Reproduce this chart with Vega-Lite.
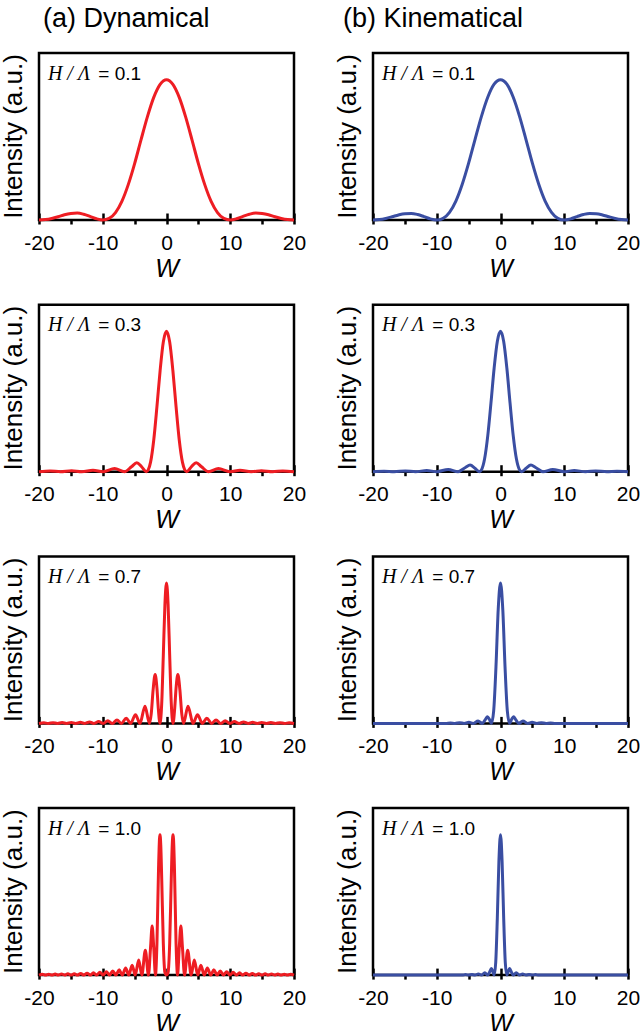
{
"$schema": "https://vega.github.io/schema/vega-lite/v6.json",
"autosize": {"type": "pad"},
"padding": {"left": -1, "top": 3, "right": 0, "bottom": 0},
"background": "white",
"config": {
 "view": {"stroke": "#000", "strokeWidth": 2.5},
 "axis": {"domain": false, "grid": false, "tickColor": "#000", "tickWidth": 2.5, "labelFont": "Liberation Sans", "labelFontSize": 21, "labelColor": "#000", "titleFont": "Liberation Sans", "titleFontSize": 25, "titleFontWeight": "normal", "titleColor": "#000", "zindex": 1}
},
"datasets": {
 "d01": [{"W":-20,"I":0},{"W":-19,"I":0.003},{"W":-18,"I":0.011},{"W":-17,"I":0.023},{"W":-16,"I":0.037},{"W":-15,"I":0.046},{"W":-14,"I":0.049},{"W":-13,"I":0.041},{"W":-12,"I":0.026},{"W":-11,"I":0.009},{"W":-10,"I":0},{"W":-9,"I":0.011},{"W":-8,"I":0.053},{"W":-7,"I":0.133},{"W":-6,"I":0.252},{"W":-5,"I":0.402},{"W":-4,"I":0.571},{"W":-3,"I":0.735},{"W":-2,"I":0.874},{"W":-1,"I":0.967},{"W":0,"I":1},{"W":1,"I":0.967},{"W":2,"I":0.874},{"W":3,"I":0.735},{"W":4,"I":0.571},{"W":5,"I":0.402},{"W":6,"I":0.252},{"W":7,"I":0.133},{"W":8,"I":0.053},{"W":9,"I":0.011},{"W":10,"I":0},{"W":11,"I":0.009},{"W":12,"I":0.026},{"W":13,"I":0.041},{"W":14,"I":0.049},{"W":15,"I":0.046},{"W":16,"I":0.037},{"W":17,"I":0.023},{"W":18,"I":0.011},{"W":19,"I":0.003},{"W":20,"I":0}],
 "k01": [{"W":-20,"I":0},{"W":-19,"I":0.003},{"W":-18,"I":0.011},{"W":-17,"I":0.023},{"W":-16,"I":0.036},{"W":-15,"I":0.045},{"W":-14,"I":0.047},{"W":-13,"I":0.039},{"W":-12,"I":0.024},{"W":-11,"I":0.008},{"W":-10,"I":0},{"W":-9,"I":0.012},{"W":-8,"I":0.055},{"W":-7,"I":0.135},{"W":-6,"I":0.255},{"W":-5,"I":0.405},{"W":-4,"I":0.573},{"W":-3,"I":0.737},{"W":-2,"I":0.875},{"W":-1,"I":0.968},{"W":0,"I":1},{"W":1,"I":0.968},{"W":2,"I":0.875},{"W":3,"I":0.737},{"W":4,"I":0.573},{"W":5,"I":0.405},{"W":6,"I":0.255},{"W":7,"I":0.135},{"W":8,"I":0.055},{"W":9,"I":0.012},{"W":10,"I":0},{"W":11,"I":0.008},{"W":12,"I":0.024},{"W":13,"I":0.039},{"W":14,"I":0.047},{"W":15,"I":0.045},{"W":16,"I":0.036},{"W":17,"I":0.023},{"W":18,"I":0.011},{"W":19,"I":0.003},{"W":20,"I":0}],
 "d03": [{"W":-20,"I":0},{"W":-18.24,"I":0.005},{"W":-16.64,"I":0},{"W":-14.89,"I":0.007},{"W":-13.3,"I":0},{"W":-11.53,"I":0.011},{"W":-9.95,"I":0},{"W":-8.14,"I":0.022},{"W":-6.59,"I":0},{"W":-5.5,"I":0.035},{"W":-4.66,"I":0.064},{"W":-3.9,"I":0.035},{"W":-3.18,"I":0},{"W":-2.85,"I":0.015},{"W":-2.5,"I":0.068},{"W":-2,"I":0.226},{"W":-1.5,"I":0.463},{"W":-1,"I":0.721},{"W":-0.5,"I":0.924},{"W":0,"I":1},{"W":0.5,"I":0.924},{"W":1,"I":0.721},{"W":1.5,"I":0.463},{"W":2,"I":0.226},{"W":2.5,"I":0.068},{"W":2.85,"I":0.015},{"W":3.18,"I":0},{"W":3.9,"I":0.035},{"W":4.66,"I":0.064},{"W":5.5,"I":0.035},{"W":6.59,"I":0},{"W":8.14,"I":0.022},{"W":9.95,"I":0},{"W":11.53,"I":0.011},{"W":13.3,"I":0},{"W":14.89,"I":0.007},{"W":16.64,"I":0},{"W":18.24,"I":0.005},{"W":20,"I":0}],
 "k03": [{"W":-20,"I":0},{"W":-18.27,"I":0.0034},{"W":-16.67,"I":0},{"W":-14.92,"I":0.005},{"W":-13.33,"I":0},{"W":-11.57,"I":0.0083},{"W":-10,"I":0},{"W":-8.2,"I":0.0165},{"W":-6.67,"I":0},{"W":-5.5,"I":0.03},{"W":-4.77,"I":0.047},{"W":-4,"I":0.024},{"W":-3.33,"I":0},{"W":-3,"I":0.012},{"W":-2.5,"I":0.09},{"W":-2,"I":0.255},{"W":-1.5,"I":0.488},{"W":-1,"I":0.737},{"W":-0.5,"I":0.928},{"W":0,"I":1},{"W":0.5,"I":0.928},{"W":1,"I":0.737},{"W":1.5,"I":0.488},{"W":2,"I":0.255},{"W":2.5,"I":0.09},{"W":3,"I":0.012},{"W":3.33,"I":0},{"W":4,"I":0.024},{"W":4.77,"I":0.047},{"W":5.5,"I":0.03},{"W":6.67,"I":0},{"W":8.2,"I":0.0165},{"W":10,"I":0},{"W":11.57,"I":0.0083},{"W":13.33,"I":0},{"W":14.92,"I":0.005},{"W":16.67,"I":0},{"W":18.27,"I":0.0034},{"W":20,"I":0}],
 "d07": [{"W":-20,"I":0},{"W":-19.23,"I":0.004},{"W":-18.54,"I":0},{"W":-17.8,"I":0.005},{"W":-17.11,"I":0},{"W":-16.37,"I":0.006},{"W":-15.68,"I":0},{"W":-14.94,"I":0.007},{"W":-14.25,"I":0},{"W":-13.51,"I":0.008},{"W":-12.82,"I":0},{"W":-12.08,"I":0.01},{"W":-11.39,"I":0},{"W":-10.64,"I":0.013},{"W":-9.95,"I":0},{"W":-9.21,"I":0.018},{"W":-8.51,"I":0},{"W":-7.77,"I":0.025},{"W":-7.07,"I":0},{"W":-6.32,"I":0.037},{"W":-5.63,"I":0},{"W":-4.86,"I":0.062},{"W":-4.17,"I":0},{"W":-3.37,"I":0.122},{"W":-2.68,"I":0},{"W":-2.4,"I":0.066},{"W":-2.1,"I":0.239},{"W":-1.78,"I":0.349},{"W":-1.5,"I":0.252},{"W":-1.3,"I":0.115},{"W":-1.02,"I":0},{"W":-0.75,"I":0.143},{"W":-0.5,"I":0.486},{"W":-0.25,"I":0.846},{"W":0,"I":1},{"W":0.25,"I":0.846},{"W":0.5,"I":0.486},{"W":0.75,"I":0.143},{"W":1.02,"I":0},{"W":1.3,"I":0.115},{"W":1.5,"I":0.252},{"W":1.78,"I":0.349},{"W":2.1,"I":0.239},{"W":2.4,"I":0.066},{"W":2.68,"I":0},{"W":3.37,"I":0.122},{"W":4.17,"I":0},{"W":4.86,"I":0.062},{"W":5.63,"I":0},{"W":6.32,"I":0.037},{"W":7.07,"I":0},{"W":7.77,"I":0.025},{"W":8.51,"I":0},{"W":9.21,"I":0.018},{"W":9.95,"I":0},{"W":10.64,"I":0.013},{"W":11.39,"I":0},{"W":12.08,"I":0.01},{"W":12.82,"I":0},{"W":13.51,"I":0.008},{"W":14.25,"I":0},{"W":14.94,"I":0.007},{"W":15.68,"I":0},{"W":16.37,"I":0.006},{"W":17.11,"I":0},{"W":17.8,"I":0.005},{"W":18.54,"I":0},{"W":19.23,"I":0.004},{"W":20,"I":0}],
 "k07": [{"W":-20,"I":0},{"W":-15,"I":0},{"W":-10,"I":0},{"W":-8.57,"I":0},{"W":-7.86,"I":0.0034},{"W":-7.14,"I":0},{"W":-6.4,"I":0.005},{"W":-5.71,"I":0},{"W":-4.96,"I":0.0083},{"W":-4.29,"I":0},{"W":-3.51,"I":0.0165},{"W":-2.86,"I":0},{"W":-2.4,"I":0.026},{"W":-2.04,"I":0.047},{"W":-1.75,"I":0.029},{"W":-1.43,"I":0},{"W":-1.07,"I":0.09},{"W":-0.71,"I":0.405},{"W":-0.36,"I":0.811},{"W":0,"I":1},{"W":0.36,"I":0.811},{"W":0.71,"I":0.405},{"W":1.07,"I":0.09},{"W":1.43,"I":0},{"W":1.75,"I":0.029},{"W":2.04,"I":0.047},{"W":2.4,"I":0.026},{"W":2.86,"I":0},{"W":3.51,"I":0.0165},{"W":4.29,"I":0},{"W":4.96,"I":0.0083},{"W":5.71,"I":0},{"W":6.4,"I":0.005},{"W":7.14,"I":0},{"W":7.86,"I":0.0034},{"W":8.57,"I":0},{"W":10,"I":0},{"W":15,"I":0},{"W":20,"I":0}],
 "d10": [{"W":-20,"I":0},{"W":-19.47,"I":0.006},{"W":-18.97,"I":0},{"W":-18.47,"I":0.006},{"W":-17.97,"I":0},{"W":-17.47,"I":0.007},{"W":-16.97,"I":0},{"W":-16.47,"I":0.008},{"W":-15.97,"I":0},{"W":-15.47,"I":0.009},{"W":-14.97,"I":0},{"W":-14.47,"I":0.01},{"W":-13.96,"I":0},{"W":-13.46,"I":0.012},{"W":-12.96,"I":0},{"W":-12.46,"I":0.014},{"W":-11.96,"I":0},{"W":-11.46,"I":0.016},{"W":-10.95,"I":0},{"W":-10.45,"I":0.02},{"W":-9.95,"I":0},{"W":-9.44,"I":0.024},{"W":-8.94,"I":0},{"W":-8.43,"I":0.03},{"W":-7.94,"I":0},{"W":-7.42,"I":0.038},{"W":-6.93,"I":0},{"W":-6.41,"I":0.051},{"W":-5.92,"I":0},{"W":-5.39,"I":0.071},{"W":-4.9,"I":0},{"W":-4.36,"I":0.107},{"W":-3.87,"I":0},{"W":-3.32,"I":0.177},{"W":-2.83,"I":0},{"W":-2.5,"I":0.2},{"W":-2.25,"I":0.349},{"W":-2,"I":0.196},{"W":-1.73,"I":0},{"W":-1.5,"I":0.224},{"W":-1.25,"I":0.757},{"W":-1.1,"I":0.971},{"W":-1.02,"I":1},{"W":-0.9,"I":0.928},{"W":-0.75,"I":0.687},{"W":-0.5,"I":0.226},{"W":-0.25,"I":0.019},{"W":0,"I":0},{"W":0.25,"I":0.019},{"W":0.5,"I":0.226},{"W":0.75,"I":0.687},{"W":0.9,"I":0.928},{"W":1.02,"I":1},{"W":1.1,"I":0.971},{"W":1.25,"I":0.757},{"W":1.5,"I":0.224},{"W":1.73,"I":0},{"W":2,"I":0.196},{"W":2.25,"I":0.349},{"W":2.5,"I":0.2},{"W":2.83,"I":0},{"W":3.32,"I":0.177},{"W":3.87,"I":0},{"W":4.36,"I":0.107},{"W":4.9,"I":0},{"W":5.39,"I":0.071},{"W":5.92,"I":0},{"W":6.41,"I":0.051},{"W":6.93,"I":0},{"W":7.42,"I":0.038},{"W":7.94,"I":0},{"W":8.43,"I":0.03},{"W":8.94,"I":0},{"W":9.44,"I":0.024},{"W":9.95,"I":0},{"W":10.45,"I":0.02},{"W":10.95,"I":0},{"W":11.46,"I":0.016},{"W":11.96,"I":0},{"W":12.46,"I":0.014},{"W":12.96,"I":0},{"W":13.46,"I":0.012},{"W":13.96,"I":0},{"W":14.47,"I":0.01},{"W":14.97,"I":0},{"W":15.47,"I":0.009},{"W":15.97,"I":0},{"W":16.47,"I":0.008},{"W":16.97,"I":0},{"W":17.47,"I":0.007},{"W":17.97,"I":0},{"W":18.47,"I":0.006},{"W":18.97,"I":0},{"W":19.47,"I":0.006},{"W":20,"I":0}],
 "k10": [{"W":-20,"I":0},{"W":-15,"I":0},{"W":-10,"I":0},{"W":-6,"I":0},{"W":-5.48,"I":0.0034},{"W":-5,"I":0},{"W":-4.48,"I":0.005},{"W":-4,"I":0},{"W":-3.47,"I":0.0083},{"W":-3,"I":0},{"W":-2.46,"I":0.0165},{"W":-2,"I":0},{"W":-1.7,"I":0.023},{"W":-1.43,"I":0.047},{"W":-1.2,"I":0.024},{"W":-1,"I":0},{"W":-0.75,"I":0.09},{"W":-0.5,"I":0.405},{"W":-0.25,"I":0.811},{"W":0,"I":1},{"W":0.25,"I":0.811},{"W":0.5,"I":0.405},{"W":0.75,"I":0.09},{"W":1,"I":0},{"W":1.2,"I":0.024},{"W":1.43,"I":0.047},{"W":1.7,"I":0.023},{"W":2,"I":0},{"W":2.46,"I":0.0165},{"W":3,"I":0},{"W":3.47,"I":0.0083},{"W":4,"I":0},{"W":4.48,"I":0.005},{"W":5,"I":0},{"W":5.48,"I":0.0034},{"W":6,"I":0},{"W":10,"I":0},{"W":15,"I":0},{"W":20,"I":0}]
},
"concat": [
 {"width":255,"height":167,"data":{"name":"d01"},
  "title":{"text":"(a) Dynamical","anchor":"start","frame":"group","dx":4,"offset":-1,"baseline":"alphabetic","fontSize":27,"font":"Liberation Sans","fontWeight":"normal","color":"#000"},
  "layer":[
   {"mark":{"type":"line","color":"#ee1d23","strokeWidth":3,"interpolate":"monotone"},"encoding":{"x":{"field":"W","type":"quantitative","scale":{"domain":[-20,20],"nice":false,"zero":false},"axis":{"orient":"bottom","values":[-20,-10,0,10,20],"tickSize":4,"labelPadding":8,"labelExpr":"'' + datum.value","title":"W","titleFontStyle":"italic","titlePadding":3,"labelFlush":false,"labelOverlap":false}},"y":{"field":"I","type":"quantitative","scale":{"domain":[0,1.19],"nice":false,"zero":false},"axis":null}}},
   {"mark":{"type":"line","opacity":0},"encoding":{"x":{"field":"W","type":"quantitative","axis":{"orient":"bottom","values":[-20,-10,0,10,20],"tickSize":-7,"labels":false,"title":null}},"y":{"field":"I","type":"quantitative","axis":null}}},
   {"mark":{"type":"line","opacity":0},"encoding":{"x":{"field":"W","type":"quantitative","axis":{"orient":"bottom","values":[-15,-5,5,15],"tickSize":4,"labels":false,"title":null}},"y":{"field":"I","type":"quantitative","axis":null}}},
   {"data":{"values":[{}]},"mark":{"type":"text","text":"Intensity (a.u.)","font":"Liberation Sans","fontSize":26,"angle":270,"align":"center","baseline":"bottom","color":"#000"},"encoding":{"x":{"datum":-21.88,"type":"quantitative","axis":null},"y":{"datum":0.595,"type":"quantitative","axis":null}}},
   {"data":{"values":[{}]},"mark":{"type":"text","text":"H / Λ","font":"Liberation Serif","fontStyle":"italic","fontSize":20,"align":"left","baseline":"alphabetic","color":"#000"},"encoding":{"x":{"datum":-18.6,"type":"quantitative","axis":null},"y":{"datum":1.0,"type":"quantitative","axis":null}}},
   {"data":{"values":[{}]},"mark":{"type":"text","text":"= 0.1","font":"Liberation Sans","fontSize":19,"align":"left","baseline":"alphabetic","color":"#000"},"encoding":{"x":{"datum":-10.7,"type":"quantitative","axis":null},"y":{"datum":1.0,"type":"quantitative","axis":null}}}
  ],
  "resolve":{"axis":{"x":"independent"}}},
 {"width":255,"height":167,"data":{"name":"k01"},
  "title":{"text":"(b) Kinematical","anchor":"start","frame":"group","dx":-30,"offset":-1,"baseline":"alphabetic","fontSize":27,"font":"Liberation Sans","fontWeight":"normal","color":"#000"},
  "layer":[
   {"mark":{"type":"line","color":"#3a4ea2","strokeWidth":3,"interpolate":"monotone"},"encoding":{"x":{"field":"W","type":"quantitative","scale":{"domain":[-20,20],"nice":false,"zero":false},"axis":{"orient":"bottom","values":[-20,-10,0,10,20],"tickSize":4,"labelPadding":8,"labelExpr":"'' + datum.value","title":"W","titleFontStyle":"italic","titlePadding":3,"labelFlush":false,"labelOverlap":false}},"y":{"field":"I","type":"quantitative","scale":{"domain":[0,1.19],"nice":false,"zero":false},"axis":null}}},
   {"mark":{"type":"line","opacity":0},"encoding":{"x":{"field":"W","type":"quantitative","axis":{"orient":"bottom","values":[-20,-10,0,10,20],"tickSize":-7,"labels":false,"title":null}},"y":{"field":"I","type":"quantitative","axis":null}}},
   {"mark":{"type":"line","opacity":0},"encoding":{"x":{"field":"W","type":"quantitative","axis":{"orient":"bottom","values":[-15,-5,5,15],"tickSize":4,"labels":false,"title":null}},"y":{"field":"I","type":"quantitative","axis":null}}},
   {"data":{"values":[{}]},"mark":{"type":"text","text":"Intensity (a.u.)","font":"Liberation Sans","fontSize":26,"angle":270,"align":"center","baseline":"bottom","color":"#000"},"encoding":{"x":{"datum":-21.88,"type":"quantitative","axis":null},"y":{"datum":0.595,"type":"quantitative","axis":null}}},
   {"data":{"values":[{}]},"mark":{"type":"text","text":"H / Λ","font":"Liberation Serif","fontStyle":"italic","fontSize":20,"align":"left","baseline":"alphabetic","color":"#000"},"encoding":{"x":{"datum":-18.6,"type":"quantitative","axis":null},"y":{"datum":1.0,"type":"quantitative","axis":null}}},
   {"data":{"values":[{}]},"mark":{"type":"text","text":"= 0.1","font":"Liberation Sans","fontSize":19,"align":"left","baseline":"alphabetic","color":"#000"},"encoding":{"x":{"datum":-10.7,"type":"quantitative","axis":null},"y":{"datum":1.0,"type":"quantitative","axis":null}}}
  ],
  "resolve":{"axis":{"x":"independent"}}},
 {"width":255,"height":167,"data":{"name":"d03"},
  "layer":[
   {"mark":{"type":"line","color":"#ee1d23","strokeWidth":3,"interpolate":"monotone"},"encoding":{"x":{"field":"W","type":"quantitative","scale":{"domain":[-20,20],"nice":false,"zero":false},"axis":{"orient":"bottom","values":[-20,-10,0,10,20],"tickSize":4,"labelPadding":8,"labelExpr":"'' + datum.value","title":"W","titleFontStyle":"italic","titlePadding":3,"labelFlush":false,"labelOverlap":false}},"y":{"field":"I","type":"quantitative","scale":{"domain":[0,1.19],"nice":false,"zero":false},"axis":null}}},
   {"mark":{"type":"line","opacity":0},"encoding":{"x":{"field":"W","type":"quantitative","axis":{"orient":"bottom","values":[-20,-10,0,10,20],"tickSize":-7,"labels":false,"title":null}},"y":{"field":"I","type":"quantitative","axis":null}}},
   {"mark":{"type":"line","opacity":0},"encoding":{"x":{"field":"W","type":"quantitative","axis":{"orient":"bottom","values":[-15,-5,5,15],"tickSize":4,"labels":false,"title":null}},"y":{"field":"I","type":"quantitative","axis":null}}},
   {"data":{"values":[{}]},"mark":{"type":"text","text":"Intensity (a.u.)","font":"Liberation Sans","fontSize":26,"angle":270,"align":"center","baseline":"bottom","color":"#000"},"encoding":{"x":{"datum":-21.88,"type":"quantitative","axis":null},"y":{"datum":0.595,"type":"quantitative","axis":null}}},
   {"data":{"values":[{}]},"mark":{"type":"text","text":"H / Λ","font":"Liberation Serif","fontStyle":"italic","fontSize":20,"align":"left","baseline":"alphabetic","color":"#000"},"encoding":{"x":{"datum":-18.6,"type":"quantitative","axis":null},"y":{"datum":1.0,"type":"quantitative","axis":null}}},
   {"data":{"values":[{}]},"mark":{"type":"text","text":"= 0.3","font":"Liberation Sans","fontSize":19,"align":"left","baseline":"alphabetic","color":"#000"},"encoding":{"x":{"datum":-10.7,"type":"quantitative","axis":null},"y":{"datum":1.0,"type":"quantitative","axis":null}}}
  ],
  "resolve":{"axis":{"x":"independent"}}},
 {"width":255,"height":167,"data":{"name":"k03"},
  "layer":[
   {"mark":{"type":"line","color":"#3a4ea2","strokeWidth":3,"interpolate":"monotone"},"encoding":{"x":{"field":"W","type":"quantitative","scale":{"domain":[-20,20],"nice":false,"zero":false},"axis":{"orient":"bottom","values":[-20,-10,0,10,20],"tickSize":4,"labelPadding":8,"labelExpr":"'' + datum.value","title":"W","titleFontStyle":"italic","titlePadding":3,"labelFlush":false,"labelOverlap":false}},"y":{"field":"I","type":"quantitative","scale":{"domain":[0,1.19],"nice":false,"zero":false},"axis":null}}},
   {"mark":{"type":"line","opacity":0},"encoding":{"x":{"field":"W","type":"quantitative","axis":{"orient":"bottom","values":[-20,-10,0,10,20],"tickSize":-7,"labels":false,"title":null}},"y":{"field":"I","type":"quantitative","axis":null}}},
   {"mark":{"type":"line","opacity":0},"encoding":{"x":{"field":"W","type":"quantitative","axis":{"orient":"bottom","values":[-15,-5,5,15],"tickSize":4,"labels":false,"title":null}},"y":{"field":"I","type":"quantitative","axis":null}}},
   {"data":{"values":[{}]},"mark":{"type":"text","text":"Intensity (a.u.)","font":"Liberation Sans","fontSize":26,"angle":270,"align":"center","baseline":"bottom","color":"#000"},"encoding":{"x":{"datum":-21.88,"type":"quantitative","axis":null},"y":{"datum":0.595,"type":"quantitative","axis":null}}},
   {"data":{"values":[{}]},"mark":{"type":"text","text":"H / Λ","font":"Liberation Serif","fontStyle":"italic","fontSize":20,"align":"left","baseline":"alphabetic","color":"#000"},"encoding":{"x":{"datum":-18.6,"type":"quantitative","axis":null},"y":{"datum":1.0,"type":"quantitative","axis":null}}},
   {"data":{"values":[{}]},"mark":{"type":"text","text":"= 0.3","font":"Liberation Sans","fontSize":19,"align":"left","baseline":"alphabetic","color":"#000"},"encoding":{"x":{"datum":-10.7,"type":"quantitative","axis":null},"y":{"datum":1.0,"type":"quantitative","axis":null}}}
  ],
  "resolve":{"axis":{"x":"independent"}}},
 {"width":255,"height":167,"data":{"name":"d07"},
  "layer":[
   {"mark":{"type":"line","color":"#ee1d23","strokeWidth":3,"interpolate":"monotone"},"encoding":{"x":{"field":"W","type":"quantitative","scale":{"domain":[-20,20],"nice":false,"zero":false},"axis":{"orient":"bottom","values":[-20,-10,0,10,20],"tickSize":4,"labelPadding":8,"labelExpr":"'' + datum.value","title":"W","titleFontStyle":"italic","titlePadding":3,"labelFlush":false,"labelOverlap":false}},"y":{"field":"I","type":"quantitative","scale":{"domain":[0,1.19],"nice":false,"zero":false},"axis":null}}},
   {"mark":{"type":"line","opacity":0},"encoding":{"x":{"field":"W","type":"quantitative","axis":{"orient":"bottom","values":[-20,-10,0,10,20],"tickSize":-7,"labels":false,"title":null}},"y":{"field":"I","type":"quantitative","axis":null}}},
   {"mark":{"type":"line","opacity":0},"encoding":{"x":{"field":"W","type":"quantitative","axis":{"orient":"bottom","values":[-15,-5,5,15],"tickSize":4,"labels":false,"title":null}},"y":{"field":"I","type":"quantitative","axis":null}}},
   {"data":{"values":[{}]},"mark":{"type":"text","text":"Intensity (a.u.)","font":"Liberation Sans","fontSize":26,"angle":270,"align":"center","baseline":"bottom","color":"#000"},"encoding":{"x":{"datum":-21.88,"type":"quantitative","axis":null},"y":{"datum":0.595,"type":"quantitative","axis":null}}},
   {"data":{"values":[{}]},"mark":{"type":"text","text":"H / Λ","font":"Liberation Serif","fontStyle":"italic","fontSize":20,"align":"left","baseline":"alphabetic","color":"#000"},"encoding":{"x":{"datum":-18.6,"type":"quantitative","axis":null},"y":{"datum":1.0,"type":"quantitative","axis":null}}},
   {"data":{"values":[{}]},"mark":{"type":"text","text":"= 0.7","font":"Liberation Sans","fontSize":19,"align":"left","baseline":"alphabetic","color":"#000"},"encoding":{"x":{"datum":-10.7,"type":"quantitative","axis":null},"y":{"datum":1.0,"type":"quantitative","axis":null}}}
  ],
  "resolve":{"axis":{"x":"independent"}}},
 {"width":255,"height":167,"data":{"name":"k07"},
  "layer":[
   {"mark":{"type":"line","color":"#3a4ea2","strokeWidth":3,"interpolate":"monotone"},"encoding":{"x":{"field":"W","type":"quantitative","scale":{"domain":[-20,20],"nice":false,"zero":false},"axis":{"orient":"bottom","values":[-20,-10,0,10,20],"tickSize":4,"labelPadding":8,"labelExpr":"'' + datum.value","title":"W","titleFontStyle":"italic","titlePadding":3,"labelFlush":false,"labelOverlap":false}},"y":{"field":"I","type":"quantitative","scale":{"domain":[0,1.19],"nice":false,"zero":false},"axis":null}}},
   {"mark":{"type":"line","opacity":0},"encoding":{"x":{"field":"W","type":"quantitative","axis":{"orient":"bottom","values":[-20,-10,0,10,20],"tickSize":-7,"labels":false,"title":null}},"y":{"field":"I","type":"quantitative","axis":null}}},
   {"mark":{"type":"line","opacity":0},"encoding":{"x":{"field":"W","type":"quantitative","axis":{"orient":"bottom","values":[-15,-5,5,15],"tickSize":4,"labels":false,"title":null}},"y":{"field":"I","type":"quantitative","axis":null}}},
   {"data":{"values":[{}]},"mark":{"type":"text","text":"Intensity (a.u.)","font":"Liberation Sans","fontSize":26,"angle":270,"align":"center","baseline":"bottom","color":"#000"},"encoding":{"x":{"datum":-21.88,"type":"quantitative","axis":null},"y":{"datum":0.595,"type":"quantitative","axis":null}}},
   {"data":{"values":[{}]},"mark":{"type":"text","text":"H / Λ","font":"Liberation Serif","fontStyle":"italic","fontSize":20,"align":"left","baseline":"alphabetic","color":"#000"},"encoding":{"x":{"datum":-18.6,"type":"quantitative","axis":null},"y":{"datum":1.0,"type":"quantitative","axis":null}}},
   {"data":{"values":[{}]},"mark":{"type":"text","text":"= 0.7","font":"Liberation Sans","fontSize":19,"align":"left","baseline":"alphabetic","color":"#000"},"encoding":{"x":{"datum":-10.7,"type":"quantitative","axis":null},"y":{"datum":1.0,"type":"quantitative","axis":null}}}
  ],
  "resolve":{"axis":{"x":"independent"}}},
 {"width":255,"height":167,"data":{"name":"d10"},
  "layer":[
   {"mark":{"type":"line","color":"#ee1d23","strokeWidth":3,"interpolate":"monotone"},"encoding":{"x":{"field":"W","type":"quantitative","scale":{"domain":[-20,20],"nice":false,"zero":false},"axis":{"orient":"bottom","values":[-20,-10,0,10,20],"tickSize":4,"labelPadding":8,"labelExpr":"'' + datum.value","title":"W","titleFontStyle":"italic","titlePadding":3,"labelFlush":false,"labelOverlap":false}},"y":{"field":"I","type":"quantitative","scale":{"domain":[0,1.19],"nice":false,"zero":false},"axis":null}}},
   {"mark":{"type":"line","opacity":0},"encoding":{"x":{"field":"W","type":"quantitative","axis":{"orient":"bottom","values":[-20,-10,0,10,20],"tickSize":-7,"labels":false,"title":null}},"y":{"field":"I","type":"quantitative","axis":null}}},
   {"mark":{"type":"line","opacity":0},"encoding":{"x":{"field":"W","type":"quantitative","axis":{"orient":"bottom","values":[-15,-5,5,15],"tickSize":4,"labels":false,"title":null}},"y":{"field":"I","type":"quantitative","axis":null}}},
   {"data":{"values":[{}]},"mark":{"type":"text","text":"Intensity (a.u.)","font":"Liberation Sans","fontSize":26,"angle":270,"align":"center","baseline":"bottom","color":"#000"},"encoding":{"x":{"datum":-21.88,"type":"quantitative","axis":null},"y":{"datum":0.595,"type":"quantitative","axis":null}}},
   {"data":{"values":[{}]},"mark":{"type":"text","text":"H / Λ","font":"Liberation Serif","fontStyle":"italic","fontSize":20,"align":"left","baseline":"alphabetic","color":"#000"},"encoding":{"x":{"datum":-18.6,"type":"quantitative","axis":null},"y":{"datum":1.0,"type":"quantitative","axis":null}}},
   {"data":{"values":[{}]},"mark":{"type":"text","text":"= 1.0","font":"Liberation Sans","fontSize":19,"align":"left","baseline":"alphabetic","color":"#000"},"encoding":{"x":{"datum":-10.7,"type":"quantitative","axis":null},"y":{"datum":1.0,"type":"quantitative","axis":null}}}
  ],
  "resolve":{"axis":{"x":"independent"}}},
 {"width":255,"height":167,"data":{"name":"k10"},
  "layer":[
   {"mark":{"type":"line","color":"#3a4ea2","strokeWidth":3,"interpolate":"monotone"},"encoding":{"x":{"field":"W","type":"quantitative","scale":{"domain":[-20,20],"nice":false,"zero":false},"axis":{"orient":"bottom","values":[-20,-10,0,10,20],"tickSize":4,"labelPadding":8,"labelExpr":"'' + datum.value","title":"W","titleFontStyle":"italic","titlePadding":3,"labelFlush":false,"labelOverlap":false}},"y":{"field":"I","type":"quantitative","scale":{"domain":[0,1.19],"nice":false,"zero":false},"axis":null}}},
   {"mark":{"type":"line","opacity":0},"encoding":{"x":{"field":"W","type":"quantitative","axis":{"orient":"bottom","values":[-20,-10,0,10,20],"tickSize":-7,"labels":false,"title":null}},"y":{"field":"I","type":"quantitative","axis":null}}},
   {"mark":{"type":"line","opacity":0},"encoding":{"x":{"field":"W","type":"quantitative","axis":{"orient":"bottom","values":[-15,-5,5,15],"tickSize":4,"labels":false,"title":null}},"y":{"field":"I","type":"quantitative","axis":null}}},
   {"data":{"values":[{}]},"mark":{"type":"text","text":"Intensity (a.u.)","font":"Liberation Sans","fontSize":26,"angle":270,"align":"center","baseline":"bottom","color":"#000"},"encoding":{"x":{"datum":-21.88,"type":"quantitative","axis":null},"y":{"datum":0.595,"type":"quantitative","axis":null}}},
   {"data":{"values":[{}]},"mark":{"type":"text","text":"H / Λ","font":"Liberation Serif","fontStyle":"italic","fontSize":20,"align":"left","baseline":"alphabetic","color":"#000"},"encoding":{"x":{"datum":-18.6,"type":"quantitative","axis":null},"y":{"datum":1.0,"type":"quantitative","axis":null}}},
   {"data":{"values":[{}]},"mark":{"type":"text","text":"= 1.0","font":"Liberation Sans","fontSize":19,"align":"left","baseline":"alphabetic","color":"#000"},"encoding":{"x":{"datum":-10.7,"type":"quantitative","axis":null},"y":{"datum":1.0,"type":"quantitative","axis":null}}}
  ],
  "resolve":{"axis":{"x":"independent"}}}
],
"columns": 2,
"bounds": "flush",
"spacing": {"row": 84.7, "column": 79}
}
